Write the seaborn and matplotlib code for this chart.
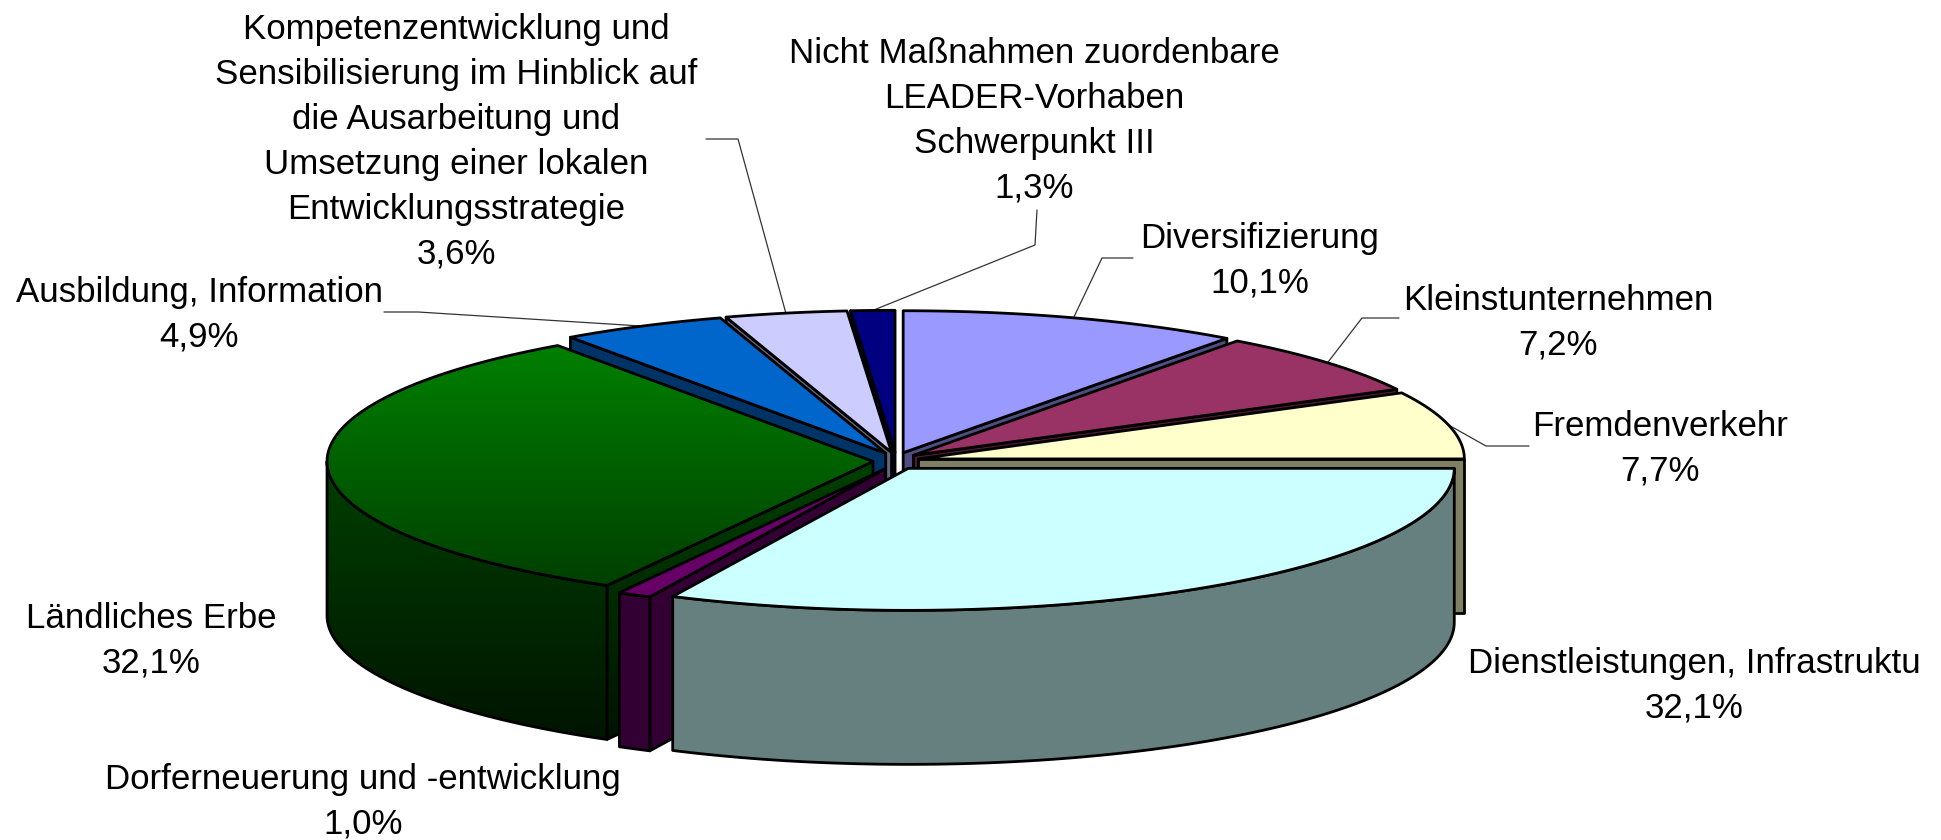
import matplotlib

matplotlib.use("Agg")
import matplotlib.pyplot as plt
from matplotlib.colors import to_rgb
from matplotlib.patches import Polygon
import numpy as np
import seaborn as sns

CATEGORIES = [
    "Diversifizierung",
    "Kleinstunternehmen",
    "Fremdenverkehr",
    "Dienstleistungen, Infrastruktu",
    "Dorferneuerung und -entwicklung",
    "Ländliches Erbe",
    "Ausbildung, Information",
    "Kompetenzentwicklung und\nSensibilisierung im Hinblick auf\ndie Ausarbeitung und\nUmsetzung einer lokalen\nEntwicklungsstrategie",
    "Nicht Maßnahmen zuordenbare\nLEADER-Vorhaben\nSchwerpunkt III",
]
SHARES = [10.1, 7.2, 7.7, 32.1, 1.0, 32.1, 4.9, 3.6, 1.3]
SHARE_LABELS = ["10,1%", "7,2%", "7,7%", "32,1%", "1,0%", "32,1%", "4,9%", "3,6%", "1,3%"]
COLORS = ["#9999FF", "#993366", "#FFFFCC", "#CCFFFF", "#660066", "#008000", "#0066CC", "#CCCCFF", "#000080"]

# pie geometry in pixels of the 1941x840 canvas
CX, CY = 896, 461
RX, RY = 546, 142
EXPLODE_X, EXPLODE_Y = 23, 8.7
DEPTH = 154
EDGE = 2.0

# back slices first, so the front ones paint over them
DRAW_ORDER = [8, 7, 6, 0, 1, 2, 5, 4, 3]
GRADIENT_SLICE = 5

# label centre x, y and leader elbow points (None = no leader)
LABEL_POS = [
    (1260, 261), (1558, 323), (1660, 449), (1694, 686), (363, 802),
    (151, 641), (199, 315), (456, 142), (1034, 121),
]
LEADERS = [
    [(1133, 258), (1102, 258)],
    [(1399, 318), (1362, 318)],
    [(1529, 446), (1486, 446)],
    None,
    None,
    None,
    [(384, 312), (418, 312)],
    [(706, 139), (738, 139)],
    [(1037, 210), (1035, 245)],
]

sns.set_theme(style="white")
plt.rcParams["font.family"] = ["Liberation Sans", "DejaVu Sans"]


def rim(tip, theta):
    return np.column_stack([tip[0] + RX * np.sin(theta), tip[1] - RY * np.cos(theta)])


def extrude(points):
    lower = points[::-1] + np.array([0, DEPTH])
    return np.vstack([points, lower])


def gradient_fill(ax, patch, colors, zorder):
    cmap = sns.blend_palette(colors, n_colors=256, as_cmap=True)
    y0, y1 = patch.get_xy()[:, 1].min(), patch.get_xy()[:, 1].max()
    x0, x1 = patch.get_xy()[:, 0].min(), patch.get_xy()[:, 0].max()
    im = ax.imshow(
        np.linspace(0, 1, 256).reshape(-1, 1),
        cmap=cmap,
        extent=(x0, x1, y1, y0),
        aspect="auto",
        zorder=zorder,
    )
    im.set_clip_path(patch)


def draw_face(ax, points, color, z, gradient=None):
    if gradient is None:
        ax.add_patch(Polygon(points, closed=True, facecolor=color, edgecolor="black", lw=EDGE, joinstyle="round", zorder=z))
        return
    back = Polygon(points, closed=True, facecolor="none", edgecolor="none", zorder=z)
    ax.add_patch(back)
    gradient_fill(ax, back, gradient, z)
    ax.add_patch(Polygon(points, closed=True, facecolor="none", edgecolor="black", lw=EDGE, joinstyle="round", zorder=z + 0.1))


fig, ax = plt.subplots(figsize=(19.41, 8.4), dpi=100)
ax.set_position([0, 0, 1, 1])
ax.axis("off")

edges = np.radians(np.cumsum([0] + SHARES) * 3.6)
mids = (edges[:-1] + edges[1:]) / 2
tips = np.column_stack([CX + EXPLODE_X * np.sin(mids), CY - EXPLODE_Y * np.cos(mids)])

z = 2.0
for i in DRAW_ORDER:
    start, end, tip = edges[i], edges[i + 1], tips[i]
    theta = np.linspace(start, end, 120)
    arc = rim(tip, theta)
    top = np.vstack([tip, arc])
    wall_color = tuple(c * 0.5 for c in to_rgb(COLORS[i]))
    top_grad = side_grad = None
    if i == GRADIENT_SLICE:
        top_grad = ["#008000", "#004000"]
        side_grad = ["#004000", "#001400"]

    # radial walls, only where they face the viewer
    if np.sin(start) < 0:
        draw_face(ax, extrude(np.vstack([tip, rim(tip, np.array([start]))])), wall_color, z, side_grad)
        z += 0.2
    if np.sin(end) > 0:
        draw_face(ax, extrude(np.vstack([tip, rim(tip, np.array([end]))])), wall_color, z, side_grad)
        z += 0.2

    # outer side, front half of the rim only
    lo, hi = max(start, np.pi / 2), min(end, 3 * np.pi / 2)
    if hi > lo:
        draw_face(ax, extrude(rim(tip, np.linspace(lo, hi, 120))), wall_color, z, side_grad)
        z += 0.2

    draw_face(ax, top, COLORS[i], z, top_grad)
    z += 0.2

for i, name in enumerate(CATEGORIES):
    x, y = LABEL_POS[i]
    ax.text(x, y, f"{name}\n{SHARE_LABELS[i]}", ha="center", va="center", fontsize=25.1, linespacing=1.46, color="black", zorder=50)
    if LEADERS[i] is not None:
        rim_pt = rim(tips[i], np.array([mids[i]]))[0]
        pts = np.array(LEADERS[i] + [tuple(rim_pt)])
        ax.plot(pts[:, 0], pts[:, 1], color="#333333", lw=0.9, zorder=1)

ax.set_xlim(0, 1941)
ax.set_ylim(840, 0)
fig.savefig("out.png", dpi=100)
